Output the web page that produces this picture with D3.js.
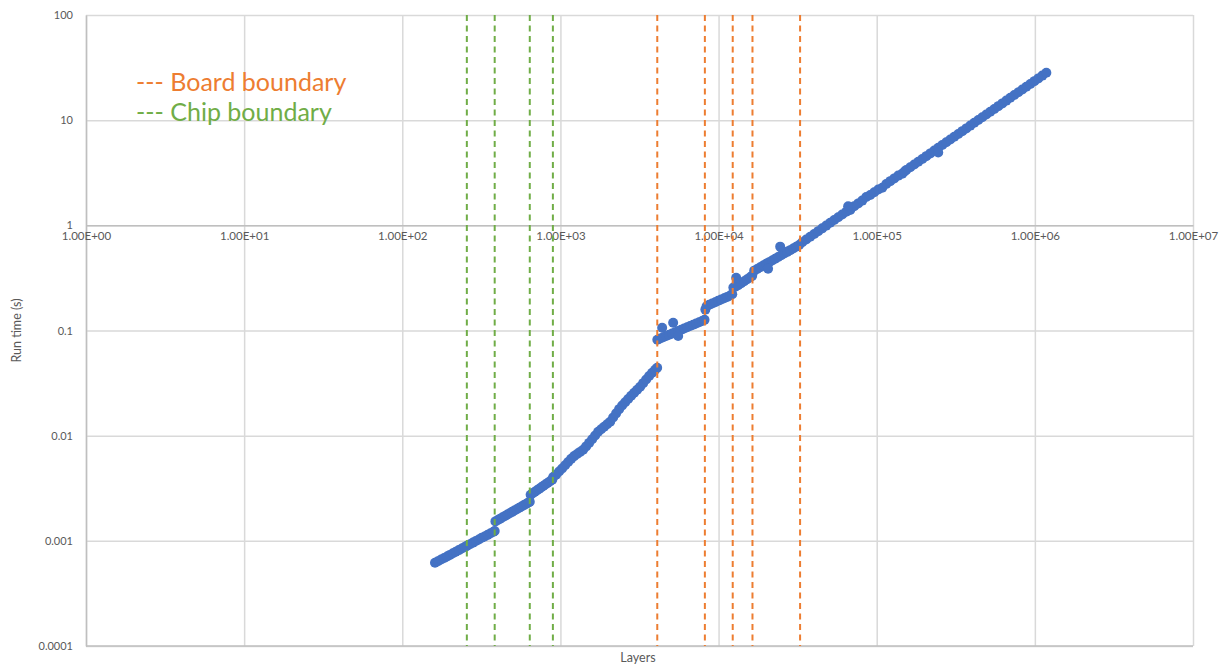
<!DOCTYPE html>
<html>
<head>
<meta charset="utf-8">
<script src="https://cdn.jsdelivr.net/npm/d3@7"></script>
<style>
  html, body { margin: 0; padding: 0; background: #fff; }
  svg text { font-family: Lato, "Open Sans", "Liberation Sans", sans-serif; }
</style>
</head>
<body>
<svg id="chart" width="1225" height="667"></svg>
<script>
// Run time against number of layers, log–log
const layers = [
  161, 168, 176, 184, 192, 200, 209, 218, 228, 238, 249, 256, 268, 280, 292, 305, 318, 332, 347, 362, 378, 384,
  388, 402, 416, 431, 446, 462, 478, 495, 512, 530, 549, 568, 588, 609, 630, 640,
  648, 668, 690, 712, 735, 758, 782, 807, 833, 860, 888,
  900, 939, 981, 1025, 1071, 1119, 1169, 1221, 1275, 1332, 1392, 1454, 1519, 1587, 1658, 1732, 1809, 1890,
  1974, 2063, 2154, 2251, 2351, 2456, 2566, 2681, 2801, 2926, 3056, 3193, 3335, 3484, 3639, 3802, 3972, 4090,
  4100, 4273, 4463, 4663, 4870, 5088, 5315, 5552, 5799, 6058, 6329, 6612, 6907, 7215, 7538, 7875, 8150,
  4398, 5161, 5552,
  8250, 8400, 8720, 9110, 9517, 9942, 10385, 10849, 11334, 11840, 12200,
  12400, 12735, 13304, 13900, 14520, 15167, 15845, 16315, 12921,
  16797, 17545, 18330, 19148, 20004, 20893, 21827, 22803, 23823, 24888, 25996, 27157, 28374, 29643, 30963, 32349,
  20560, 24525,
  33800, 35828, 37978, 40256, 42672, 45232, 47946, 50823, 53872, 57104, 60531, 64162, 68012, 72093, 76419,
  81004, 85864, 91016, 96477, 102266, 108402, 114906, 121800, 129108, 136855, 145066, 153770, 162996, 172776,
  183143, 194132, 205780, 218127, 231215, 245088, 259793, 275381, 291904, 309418, 327983, 347662, 368522,
  390633, 414071, 438915, 465250, 493165, 522755, 554120, 587367, 622609, 659966, 699564, 741538, 786030,
  833192, 883184, 936175, 992345, 1051886, 1114999, 1181899,
  244900, 66000, 150000
];
const runTime = [
  0.000618, 0.000639, 0.000664, 0.000688, 0.000711, 0.000735, 0.000762, 0.000788, 0.000816, 0.000845, 0.000876,
  0.000896, 0.000929, 0.000962, 0.000995, 0.00103, 0.00107, 0.00110, 0.00114, 0.00118, 0.00122, 0.00124,
  0.00153, 0.001577, 0.001625, 0.001675, 0.001725, 0.001778, 0.001831, 0.001886, 0.001942, 0.00200, 0.002062,
  0.002123, 0.002187, 0.002254, 0.002321, 0.002353,
  0.00274, 0.002829, 0.002927, 0.003025, 0.003128, 0.00323, 0.003338, 0.00345, 0.003567, 0.003688, 0.003814,
  0.00405, 0.00426, 0.00456, 0.00488, 0.00524, 0.00561, 0.00602, 0.00639, 0.00670, 0.00701, 0.00734, 0.00791,
  0.00854, 0.00924, 0.01003, 0.01089, 0.01150, 0.01215,
  0.01284, 0.01356, 0.01487, 0.01630, 0.01787, 0.01934, 0.02078, 0.02234, 0.02396, 0.02560, 0.02733, 0.02919,
  0.03158, 0.03419, 0.03698, 0.03968, 0.04236, 0.04426,
  0.0818, 0.0840, 0.0864, 0.0887, 0.0912, 0.0937, 0.0963, 0.0990, 0.1018, 0.1046, 0.1075, 0.1105, 0.1136,
  0.1167, 0.1199, 0.1233, 0.1262,
  0.1063, 0.1186, 0.0885,
  0.158, 0.170, 0.1756, 0.1806, 0.1858, 0.1917, 0.1972, 0.2029, 0.2088, 0.2148, 0.2211,
  0.2560, 0.2610, 0.2698, 0.2818, 0.2944, 0.3077, 0.3214, 0.3307, 0.3180,
  0.3707, 0.3848, 0.3994, 0.4145, 0.4302, 0.4466, 0.4634, 0.4810, 0.4993, 0.5194, 0.5391, 0.5597, 0.5808,
  0.6028, 0.6258, 0.6496,
  0.387, 0.627,
  0.690, 0.7336, 0.7796, 0.8285, 0.8804, 0.9356, 0.9943, 1.0566, 1.1229, 1.1933, 1.2681, 1.3476, 1.4000,
  1.5219, 1.6173, 1.7187, 1.8600, 1.9410, 2.0627, 2.1920, 2.2800, 2.4756, 2.6308, 2.7958, 2.9711, 3.1000,
  3.3554, 3.5658, 3.7894, 4.0270, 4.2795, 4.5478, 4.8330, 5.1361, 5.4581, 5.8004, 6.1641, 6.5506, 6.9614,
  7.3979, 7.8618, 8.3548, 8.8787, 9.4354, 10.027, 10.656, 11.324, 12.034, 12.789, 13.591, 14.443, 15.349,
  16.311, 17.334, 18.421, 19.576, 20.804, 22.108, 23.494, 24.968, 26.533, 28.197,
  4.92, 1.52, 3.25
];

// Vertical markers
const chipBoundaries = [256, 384, 640, 896];
const boardBoundaries = [4096, 8192, 12288, 16384, 32768];

// Axis ticks
const xTicks = [1, 10, 100, 1e3, 1e4, 1e5, 1e6, 1e7];
const xTickLabels = ["1.00E+00", "1.00E+01", "1.00E+02", "1.00E+03", "1.00E+04", "1.00E+05", "1.00E+06", "1.00E+07"];
const yTicks = [0.0001, 0.001, 0.01, 0.1, 1, 10, 100];
const yTickLabels = ["0.0001", "0.001", "0.01", "0.1", "1", "10", "100"];

const legendItems = [
  { text: "--- Board boundary", color: "#ED7D31" },
  { text: "--- Chip boundary", color: "#70AD47" }
];

const points = layers.map((l, i) => ({ l, t: runTime[i] }));

const svg = d3.select("#chart");
const plot = { left: 86, right: 1193, top: 15, bottom: 646 };

const x = d3.scaleLog().domain([1, 1e7]).range([plot.left, plot.right]);
const y = d3.scaleLog().domain([1e-4, 100]).range([plot.bottom, plot.top]);

const gridColor = "#d9d9d9";
const axisColor = "#bfbfbf";
const textColor = "#595959";

// Vertical gridlines
svg.append("g")
  .attr("transform", `translate(0,${plot.bottom})`)
  .call(d3.axisBottom(x).tickValues(xTicks).tickSize(-(plot.bottom - plot.top)).tickFormat(""))
  .call(g => g.select(".domain").remove())
  .call(g => g.selectAll("line").attr("stroke", gridColor).attr("stroke-width", 1.5));

// Horizontal gridlines
svg.append("g")
  .attr("transform", `translate(${plot.left},0)`)
  .call(d3.axisLeft(y).tickValues(yTicks).tickSize(-(plot.right - plot.left)).tickFormat(""))
  .call(g => g.select(".domain").remove())
  .call(g => g.selectAll("line").attr("stroke", gridColor).attr("stroke-width", 1.5));

// Y axis with labels
svg.append("g")
  .attr("transform", `translate(${plot.left},0)`)
  .call(d3.axisLeft(y).tickValues(yTicks).tickSize(0).tickPadding(13)
    .tickFormat((d, i) => yTickLabels[i]))
  .call(g => g.select(".domain").attr("stroke", axisColor).attr("stroke-width", 1.5))
  .call(g => g.selectAll("text").attr("fill", textColor).style("font-size", "11px"));

// X axis crosses at run time = 1
svg.append("g")
  .attr("transform", `translate(0,${y(1)})`)
  .call(d3.axisBottom(x).tickValues(xTicks).tickSize(0).tickPadding(7)
    .tickFormat((d, i) => xTickLabels[i]))
  .call(g => g.select(".domain").attr("stroke", axisColor).attr("stroke-width", 1.5))
  .call(g => g.selectAll("text").attr("fill", textColor).style("font-size", "11.5px"));

// Bottom edge of plot area
svg.append("line")
  .attr("x1", plot.left).attr("x2", plot.right)
  .attr("y1", plot.bottom).attr("y2", plot.bottom)
  .attr("stroke", axisColor).attr("stroke-width", 1.5);

// Scatter points
svg.append("g")
  .selectAll("circle")
  .data(points)
  .join("circle")
  .attr("cx", d => x(d.l))
  .attr("cy", d => y(d.t))
  .attr("r", 5)
  .attr("fill", "#4472C4");

// Boundary markers
function drawBoundaries(values, color) {
  svg.append("g")
    .selectAll("line")
    .data(values)
    .join("line")
    .attr("x1", d => x(d)).attr("x2", d => x(d))
    .attr("y1", plot.top).attr("y2", plot.bottom)
    .attr("stroke", color)
    .attr("stroke-width", 2)
    .attr("stroke-dasharray", "6,4.5");
}
drawBoundaries(chipBoundaries, "#70AD47");
drawBoundaries(boardBoundaries, "#ED7D31");

// Legend
svg.append("g")
  .selectAll("text")
  .data(legendItems)
  .join("text")
  .attr("x", 136)
  .attr("y", (d, i) => 91 + i * 30)
  .attr("fill", d => d.color)
  .style("font-size", "25px")
  .text(d => d.text);

// Axis titles
svg.append("text")
  .attr("x", 638).attr("y", 662)
  .attr("text-anchor", "middle")
  .attr("fill", textColor)
  .style("font-size", "12.5px")
  .text("Layers");

svg.append("text")
  .attr("transform", `translate(21,${(plot.top + plot.bottom) / 2}) rotate(-90)`)
  .attr("text-anchor", "middle")
  .attr("fill", textColor)
  .style("font-size", "12.5px")
  .text("Run time (s)");
</script>
</body>
</html>
